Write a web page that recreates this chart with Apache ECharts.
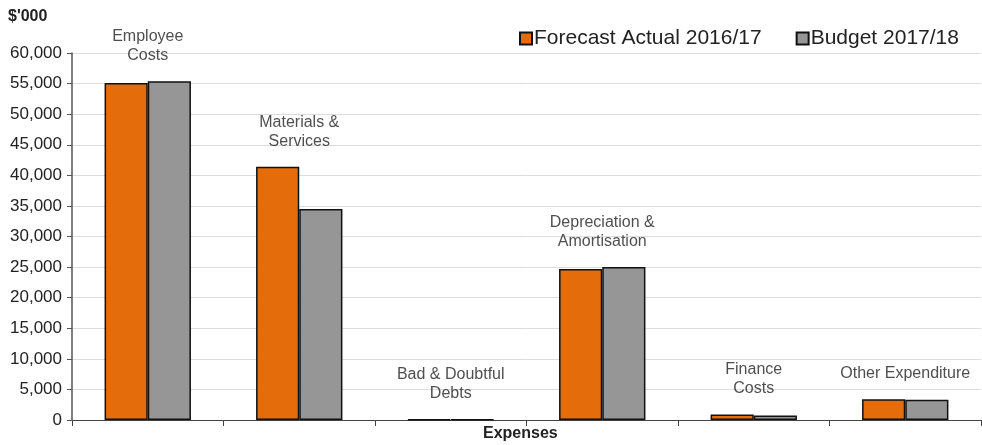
<!DOCTYPE html>
<html><head><meta charset="utf-8">
<script src="https://cdn.jsdelivr.net/npm/echarts@6/dist/echarts.min.js"></script>
<style>html,body{margin:0;padding:0;background:#fff}#c{width:982px;height:445px}</style>
</head><body><div id="c"></div>
<script>
const categories = ['Employee\nCosts', 'Materials &\nServices', 'Bad & Doubtful\nDebts', 'Depreciation &\nAmortisation', 'Finance\nCosts', 'Other Expenditure'];
const forecast = [55100, 41400, 100, 24700, 900, 3400];
const budget = [55400, 34500, 100, 25000, 750, 3300];
const yTicks = [0, 5000, 10000, 15000, 20000, 25000, 30000, 35000, 40000, 45000, 50000, 55000, 60000];
const labelPos = categories.map((c, i) => Math.max(forecast[i], budget[i]));

const chart = echarts.init(document.getElementById('c'));
const font = '"Liberation Sans", Arial, sans-serif';
chart.setOption({
  animation: false,
  textStyle: { fontFamily: font },
  grid: { left: 72, right: 1, top: 53, bottom: 25, containLabel: false },
  graphic: [
    { type: 'text', left: 8, top: 9, style: { text: "$'000", font: 'bold 16px ' + font, fill: '#222' } },
    { type: 'text', left: 483, top: 426, style: { text: 'Expenses', font: 'bold 16px ' + font, fill: '#222' } }
  ],
  legend: {
    top: 23, left: 514, itemGap: 34, itemWidth: 12, itemHeight: 12, icon: 'rect',
    textStyle: { fontSize: 21, color: '#222', fontFamily: font, padding: [0, 0, 0, -3] },
    data: ['Forecast Actual 2016/17', 'Budget 2017/18']
  },
  xAxis: {
    type: 'category', data: categories,
    axisLine: { lineStyle: { color: '#444', width: 1 } },
    axisTick: { show: true, alignWithLabel: false, length: 6, lineStyle: { color: '#444' } },
    axisLabel: { show: false }
  },
  yAxis: {
    type: 'value', min: 0, max: 60000, interval: 5000,
    axisLine: { show: true, lineStyle: { color: '#555', width: 1.5 } },
    axisTick: { show: true, length: 5, lineStyle: { color: '#555' } },
    axisLabel: { fontSize: 17, color: '#222', margin: 10, fontFamily: font,
      formatter: v => yTicks.includes(v) ? v.toLocaleString('en-US') : '' },
    splitLine: { lineStyle: { color: '#dcdcdc', width: 1 } }
  },
  series: [
    { name: 'Forecast Actual 2016/17', type: 'bar', data: forecast, barGap: '0%', barCategoryGap: '43%',
      itemStyle: { color: '#E46C0A', borderColor: '#111', borderWidth: 1.5 } },
    { name: 'Budget 2017/18', type: 'bar', data: budget,
      itemStyle: { color: '#969696', borderColor: '#111', borderWidth: 1.5 } },
    { name: 'labels', type: 'scatter', data: labelPos, symbolSize: 0, silent: true,
      label: { show: true, position: 'top', distance: 16, fontSize: 16, lineHeight: 19, color: '#222',
        fontFamily: font, align: 'center',
        formatter: p => categories[p.dataIndex] } }
  ]
});
</script></body></html>
